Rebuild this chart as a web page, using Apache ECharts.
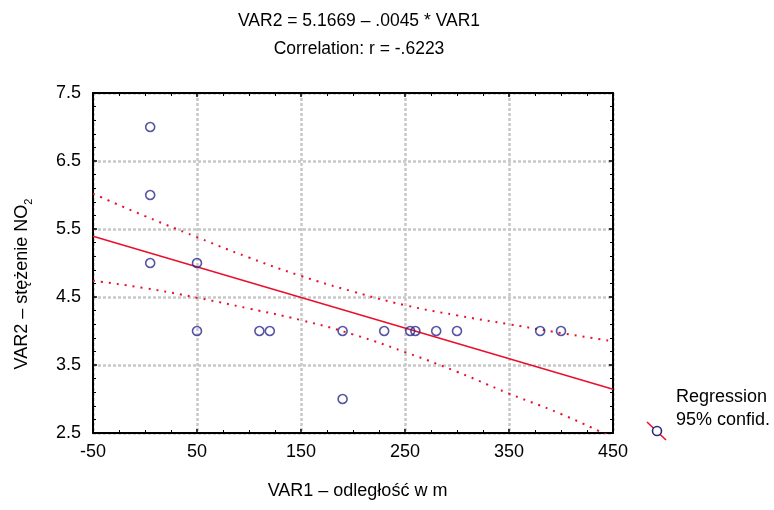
<!DOCTYPE html>
<html>
<head>
<meta charset="utf-8">
<script src="https://cdn.jsdelivr.net/npm/echarts@6/dist/echarts.min.js"></script>
<style>html,body{margin:0;padding:0;background:#fff;}#chart{width:774px;height:510px;}</style>
</head>
<body>
<div id="chart"></div>
<script>
// ---- data ----
const xValues = [5, 5, 5, 50, 50, 110, 120, 190, 190, 230, 255, 260, 280, 300, 380, 400];
const yValues = [7, 6, 5, 5, 4, 4, 4, 4, 3, 4, 4, 4, 4, 4, 4, 4];
const fitX = [-50, 450];
const fitY = [5.392, 3.142];
const bandX = [-50, 0, 50, 100, 150, 200, 250, 300, 350, 400, 450];
const upperBand = [6.02, 5.69, 5.38, 5.08, 4.81, 4.58, 4.38, 4.23, 4.10, 3.97, 3.85];
const lowerBand = [4.74, 4.63, 4.49, 4.33, 4.16, 3.95, 3.69, 3.40, 3.08, 2.78, 2.43];
const titleLines = ['VAR2 = 5.1669 – .0045 * VAR1', 'Correlation: r = -.6223'];
const xName = 'VAR1 – odległość w m';
const yNameMain = 'VAR2 – stężenie NO';
const yNameSub = '2';
const legendLines = ['Regression', '95% confid.'];

const FONT = 'Liberation Sans, Arial, sans-serif';
const FS = 18;
const pair = (xs, ys) => xs.map((x, i) => [x, ys[i]]);

const chart = echarts.init(document.getElementById('chart'), null, {renderer: 'canvas'});

function makeAxis(base, pos, labels, split) {
  return Object.assign({
    type: 'value',
    position: pos,
    axisLine: {show: true, onZero: false, lineStyle: {color: '#000', width: 2}},
    axisTick: {show: true, inside: true, length: 4, lineStyle: {color: '#000', width: 1.5}},
    minorTick: {show: true, length: 3, lineStyle: {color: '#000', width: 1}},
    axisLabel: {show: labels, color: '#000', fontSize: FS, fontFamily: FONT, margin: 10},
    splitLine: {show: split, lineStyle: {color: '#c8c8c8', width: 2.5, type: [3, 2]}},
    minorSplitLine: {show: false}
  }, base);
}

const xBase = {min: -50, max: 450, interval: 100};
const yBase = {min: 2.5, max: 7.5, interval: 1};

const option = {
  backgroundColor: '#fff',
  animation: false,
  title: {
    text: titleLines.join('\n'),
    left: 354, top: 2, textAlign: 'center',
    textStyle: {fontSize: 17.5, fontWeight: 'normal', color: '#000', fontFamily: FONT, lineHeight: 28}
  },
  grid: {left: 93, right: 161, top: 93, bottom: 77},
  xAxis: [
    makeAxis(Object.assign({}, xBase, {
      name: xName, nameLocation: 'middle', nameGap: 49,
      nameTextStyle: {fontSize: FS, color: '#000', fontFamily: FONT, padding: [0, 0, 0, 9]},
      minorTick: {show: true, splitNumber: 4, length: 3, lineStyle: {color: '#000', width: 1}}
    }), 'bottom', true, true),
    makeAxis(Object.assign({}, xBase, {
      minorTick: {show: true, splitNumber: 4, length: 3, lineStyle: {color: '#000', width: 1}}
    }), 'top', false, false)
  ],
  yAxis: [
    makeAxis(Object.assign({}, yBase, {
      name: yNameMain + '{sub|' + yNameSub + '}', nameLocation: 'middle', nameGap: 59, nameRotate: 90,
      nameTextStyle: {fontSize: FS, color: '#000', fontFamily: FONT, lineHeight: 24, padding: [0, 42, 0, 0],
        rich: {sub: {fontSize: 11, fontFamily: FONT, color: '#000', verticalAlign: 'bottom', lineHeight: 24}}},
      minorTick: {show: true, splitNumber: 5, length: 3, lineStyle: {color: '#000', width: 1}},
      axisLabel: {show: true, color: '#000', fontSize: FS, fontFamily: FONT, margin: 12,
        formatter: v => v.toFixed(1)}
    }), 'left', true, true),
    makeAxis(Object.assign({}, yBase, {
      minorTick: {show: true, splitNumber: 5, length: 3, lineStyle: {color: '#000', width: 1}}
    }), 'right', false, false)
  ],
  series: [
    {
      type: 'line', data: pair(bandX, upperBand), smooth: true, showSymbol: false, symbol: 'none',
      lineStyle: {color: '#e8102c', width: 2, type: [2, 6]}, z: 3, silent: true
    },
    {
      type: 'line', data: pair(bandX, lowerBand), smooth: true, showSymbol: false, symbol: 'none',
      lineStyle: {color: '#e8102c', width: 2, type: [2, 6]}, z: 3, silent: true
    },
    {
      type: 'line', data: pair(fitX, fitY), showSymbol: false, symbol: 'none',
      lineStyle: {color: '#e8102c', width: 1.6}, z: 4, silent: true
    },
    {
      type: 'scatter', data: pair(xValues, yValues), symbol: 'circle', symbolSize: 9,
      itemStyle: {color: 'rgba(255,255,255,0)', borderColor: '#2b2a8c', borderWidth: 1.6}, z: 5
    }
  ],
  graphic: [
    {type: 'text', left: 676, top: 386,
      style: {text: legendLines.join('\n'), fontSize: FS, fontFamily: FONT, fill: '#000', lineHeight: 23}},
    {type: 'line', shape: {x1: 647, y1: 422, x2: 666, y2: 440}, style: {stroke: '#e8102c', lineWidth: 1.6}},
    {type: 'circle', shape: {cx: 657, cy: 431, r: 4.5}, style: {fill: '#fff', stroke: '#2b2a8c', lineWidth: 1.6}}
  ]
};
chart.setOption(option);
</script>
</body>
</html>
